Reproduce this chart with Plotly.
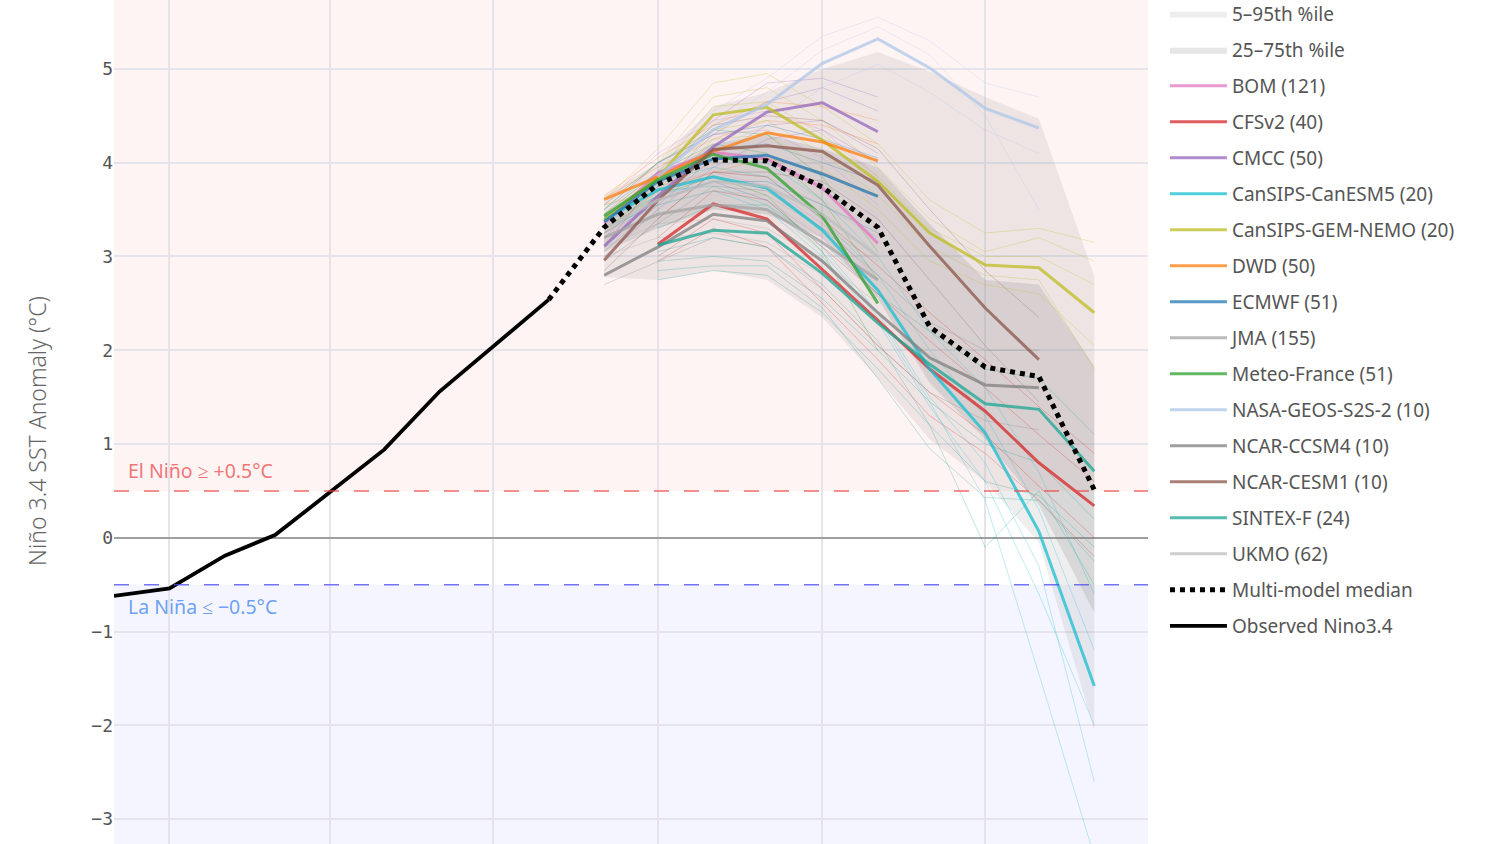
import plotly.graph_objects as go

# ---------------- data ----------------
OBS_MONTHS = ["2022-12-01", "2023-01-01", "2023-02-01", "2023-03-01", "2023-04-01",
              "2023-05-01", "2023-06-01", "2023-07-01", "2023-08-01"]
OBS_VALUES = [-0.62, -0.54, -0.19, 0.03, 0.49, 0.94, 1.56, 2.04, 2.54]

FC_MONTHS = ["2023-09-01", "2023-10-01", "2023-11-01", "2023-12-01", "2024-01-01",
             "2024-02-01", "2024-03-01", "2024-04-01", "2024-05-01", "2024-06-01"]

MEDIAN_MONTHS = ["2023-08-01"] + FC_MONTHS
MEDIAN_VALUES = [2.54, 3.31, 3.77, 4.03, 4.02, 3.74, 3.31, 2.25, 1.82, 1.72, 0.51]

P05 = [2.78, 2.75, 2.85, 2.75, 2.35, 1.70, 1.05, 0.60, -0.05, -2.05]
P95 = [3.65, 4.00, 4.60, 4.75, 5.00, 5.18, 4.97, 4.70, 4.47, 2.79]
P25 = [3.05, 3.30, 3.50, 3.45, 3.20, 2.55, 1.65, 1.05, 0.35, -0.80]
P75 = [3.45, 3.85, 4.20, 4.30, 4.15, 3.95, 3.35, 2.75, 2.70, 1.83]

# start index into FC_MONTHS, ensemble mean, a few readable members
BOM_START = 0
BOM_MEAN = [3.35, 3.89, 4.11, 4.04, 3.73, 3.14]
BOM_MEMBERS = [[3.55, 4.10, 4.45, 4.55, 4.35, 3.85],
               [3.20, 3.60, 3.80, 3.60, 3.20, 2.60],
               [3.45, 4.00, 4.30, 4.35, 4.05, 3.55],
               [3.25, 3.70, 3.90, 3.75, 3.35, 2.75]]

CFS_START = 1
CFS_MEAN = [3.13, 3.56, 3.40, 2.86, 2.32, 1.80, 1.35, 0.80, 0.34]
CFS_MEMBERS = [[3.40, 3.90, 3.85, 3.40, 2.90, 2.40, 1.90, 1.40, 0.90],
               [2.95, 3.30, 3.10, 2.50, 1.90, 1.30, 0.90, 0.40, -0.20],
               [3.20, 3.70, 3.60, 3.10, 2.60, 2.10, 1.60, 1.10, 0.60],
               [3.00, 3.40, 3.25, 2.65, 2.05, 1.55, 1.10, 0.55, 0.00]]

CMCC_START = 0
CMCC_MEAN = [3.11, 3.64, 4.17, 4.54, 4.64, 4.33]
CMCC_MEMBERS = [[3.30, 3.90, 4.45, 4.85, 4.90, 4.70],
                [3.00, 3.50, 3.95, 4.25, 4.35, 4.00],
                [3.20, 3.75, 4.30, 4.65, 4.80, 4.55],
                [3.05, 3.55, 4.05, 4.40, 4.45, 4.10]]

CANESM_START = 0
CANESM_MEAN = [3.39, 3.71, 3.85, 3.73, 3.28, 2.64, 1.80, 1.12, 0.07, -1.58]
CANESM_MEMBERS = [[3.50, 3.90, 4.05, 4.00, 3.60, 3.00, 2.20, 1.60, 0.70, -0.60],
                  [3.30, 3.55, 3.70, 3.50, 3.00, 2.30, 1.40, 0.60, -0.60, -2.00],
                  [3.45, 3.80, 3.95, 3.85, 3.40, 2.80, 2.00, 1.30, 0.30, -1.20],
                  [3.35, 3.65, 3.80, 3.60, 3.10, 2.40, 1.50, 0.80, -0.30, -2.60],
                  [3.40, 3.70, 3.75, 3.55, 3.05, 2.35, 1.45, 0.40, -1.45, -3.40]]

GEM_START = 0
GEM_MEAN = [3.39, 3.84, 4.51, 4.59, 4.24, 3.80, 3.25, 2.91, 2.88, 2.40]
GEM_MEMBERS = [[3.60, 4.15, 4.85, 4.95, 4.60, 4.20, 3.60, 3.25, 3.30, 3.15],
               [3.25, 3.65, 4.25, 4.30, 3.95, 3.50, 2.95, 2.70, 2.60, 2.05],
               [3.50, 4.00, 4.70, 4.80, 4.45, 3.95, 3.40, 3.05, 3.20, 2.95],
               [3.30, 3.70, 4.35, 4.45, 4.10, 3.65, 3.10, 2.80, 2.75, 1.80],
               [3.45, 3.90, 4.60, 4.65, 4.30, 3.85, 3.30, 3.00, 3.00, 2.70]]

DWD_START = 0
DWD_MEAN = [3.61, 3.85, 4.12, 4.32, 4.22, 4.02]
DWD_MEMBERS = [[3.65, 4.05, 4.40, 4.65, 4.60, 4.45],
               [3.55, 3.70, 3.90, 4.05, 3.90, 3.65],
               [3.62, 3.95, 4.25, 4.45, 4.40, 4.20]]

ECMWF_START = 0
ECMWF_MEAN = [3.37, 3.80, 4.04, 4.08, 3.88, 3.64]
ECMWF_MEMBERS = [[3.50, 4.00, 4.30, 4.40, 4.25, 4.05],
                 [3.25, 3.60, 3.80, 3.80, 3.55, 3.25],
                 [3.40, 3.85, 4.15, 4.20, 4.00, 3.80]]

JMA_START = 0
JMA_MEAN = [3.20, 3.45, 3.55, 3.50, 3.15, 2.75]
JMA_MEMBERS = [[3.40, 3.75, 3.90, 3.85, 3.55, 3.20],
               [3.00, 3.20, 3.25, 3.15, 2.80, 2.30],
               [3.25, 3.55, 3.70, 3.65, 3.30, 2.95],
               [3.10, 3.35, 3.40, 3.30, 2.95, 2.50]]

MF_START = 0
MF_MEAN = [3.43, 3.82, 4.09, 3.94, 3.43, 2.50]
MF_MEMBERS = [[3.55, 4.00, 4.35, 4.30, 3.85, 3.05],
              [3.30, 3.65, 3.85, 3.65, 3.05, 2.00],
              [3.45, 3.90, 4.20, 4.10, 3.60, 2.75]]

NASA_START = 1
NASA_MEAN = [3.85, 4.35, 4.62, 5.06, 5.32, 5.01, 4.58, 4.37]
NASA_MEMBERS = [[4.05, 4.55, 4.90, 5.35, 5.55, 5.30, 4.85, 4.70],
                [3.75, 4.15, 4.40, 4.80, 5.05, 4.75, 4.35, 4.10],
                [3.90, 4.40, 4.75, 5.20, 5.45, 5.15, 4.50, 3.50]]

CCSM4_START = 0
CCSM4_MEAN = [2.80, 3.10, 3.45, 3.38, 2.95, 2.40, 1.92, 1.63, 1.60]
CCSM4_MEMBERS = [[2.95, 3.35, 3.75, 3.70, 3.30, 2.80, 2.30, 2.00, 2.00],
                 [2.70, 2.95, 3.20, 3.10, 2.65, 2.05, 1.55, 1.25, 1.15]]

CESM1_START = 0
CESM1_MEAN = [2.96, 3.60, 4.14, 4.18, 4.12, 3.76, 3.11, 2.45, 1.90]
CESM1_MEMBERS = [[3.10, 3.85, 4.40, 4.50, 4.45, 4.15, 3.50, 2.85, 2.35],
                 [2.85, 3.40, 3.90, 3.90, 3.80, 3.40, 2.75, 2.05, 1.45]]

SINTEX_START = 1
SINTEX_MEAN = [3.12, 3.28, 3.25, 2.82, 2.29, 1.85, 1.43, 1.37, 0.71]
SINTEX_MEMBERS = [[2.75, 2.85, 2.80, 2.40, 1.80, 1.20, 0.60, 0.45, -0.10],
                  [2.95, 3.00, 2.95, 2.55, 2.00, 1.45, 1.00, 0.80, 0.20],
                  [3.30, 3.55, 3.55, 3.15, 2.60, 2.20, 1.80, 1.70, 1.10],
                  [2.85, 2.90, 2.90, 2.45, 1.70, 0.95, 0.43, 0.40, -0.25],
                  [3.05, 3.20, 3.10, 2.70, 2.10, 1.20, -0.10, 0.50, -0.50]]

UKMO_START = 0
UKMO_MEAN = [3.30, 3.60, 3.80, 3.75, 3.45, 3.00]
UKMO_MEMBERS = [[3.45, 3.85, 4.10, 4.10, 3.85, 3.45],
                [3.15, 3.40, 3.55, 3.45, 3.10, 2.60],
                [3.35, 3.70, 3.95, 3.90, 3.60, 3.20]]

MODEL_NAMES = ["BOM (121)", "CFSv2 (40)", "CMCC (50)", "CanSIPS-CanESM5 (20)",
               "CanSIPS-GEM-NEMO (20)", "DWD (50)", "ECMWF (51)", "JMA (155)",
               "Meteo-France (51)", "NASA-GEOS-S2S-2 (10)", "NCAR-CCSM4 (10)",
               "NCAR-CESM1 (10)", "SINTEX-F (24)", "UKMO (62)"]
MODEL_COLORS = ["#e377c2", "#d62728", "#9467bd", "#17becf", "#bcbd22", "#ff7f0e",
                "#1f77b4", "#a3a3a3", "#2ca02c", "#aec7e8", "#7f7f7f", "#8c564b",
                "#1aa593", "#bdbdbd"]
MODEL_STARTS = [BOM_START, CFS_START, CMCC_START, CANESM_START, GEM_START, DWD_START,
                ECMWF_START, JMA_START, MF_START, NASA_START, CCSM4_START, CESM1_START,
                SINTEX_START, UKMO_START]
MODEL_MEANS = [BOM_MEAN, CFS_MEAN, CMCC_MEAN, CANESM_MEAN, GEM_MEAN, DWD_MEAN,
               ECMWF_MEAN, JMA_MEAN, MF_MEAN, NASA_MEAN, CCSM4_MEAN, CESM1_MEAN,
               SINTEX_MEAN, UKMO_MEAN]
MODEL_MEMBERS = [BOM_MEMBERS, CFS_MEMBERS, CMCC_MEMBERS, CANESM_MEMBERS, GEM_MEMBERS,
                 DWD_MEMBERS, ECMWF_MEMBERS, JMA_MEMBERS, MF_MEMBERS, NASA_MEMBERS,
                 CCSM4_MEMBERS, CESM1_MEMBERS, SINTEX_MEMBERS, UKMO_MEMBERS]

Y_TICKS = [-3, -2, -1, 0, 1, 2, 3, 4, 5]


def hex_rgba(h, a):
    h = h.lstrip("#")
    return "rgba(%d,%d,%d,%.3f)" % (int(h[0:2], 16), int(h[2:4], 16), int(h[4:6], 16), a)


fig = go.Figure()

# percentile bands
fig.add_trace(go.Scatter(x=FC_MONTHS, y=P05, mode="lines", line=dict(width=0),
                         showlegend=False, hoverinfo="skip", legendgroup="p5"))
fig.add_trace(go.Scatter(x=FC_MONTHS, y=P95, mode="lines", line=dict(width=0),
                         fill="tonexty", fillcolor="rgba(120,120,120,0.13)",
                         name="5–95th %ile", legendgroup="p5"))
fig.add_trace(go.Scatter(x=FC_MONTHS, y=P25, mode="lines", line=dict(width=0),
                         showlegend=False, hoverinfo="skip", legendgroup="p25"))
fig.add_trace(go.Scatter(x=FC_MONTHS, y=P75, mode="lines", line=dict(width=0),
                         fill="tonexty", fillcolor="rgba(120,120,120,0.19)",
                         name="25–75th %ile", legendgroup="p25"))

# ensemble members
for name, color, start, members in zip(MODEL_NAMES, MODEL_COLORS, MODEL_STARTS, MODEL_MEMBERS):
    for m in members:
        fig.add_trace(go.Scatter(x=FC_MONTHS[start:start + len(m)], y=m, mode="lines",
                                 line=dict(color=hex_rgba(color, 0.28), width=1),
                                 showlegend=False, legendgroup=name, hoverinfo="skip"))

# ensemble means
for name, color, start, mean in zip(MODEL_NAMES, MODEL_COLORS, MODEL_STARTS, MODEL_MEANS):
    fig.add_trace(go.Scatter(x=FC_MONTHS[start:start + len(mean)], y=mean, mode="lines",
                             line=dict(color=hex_rgba(color, 0.75), width=3),
                             name=name, legendgroup=name))

fig.add_trace(go.Scatter(x=MEDIAN_MONTHS, y=MEDIAN_VALUES, mode="lines",
                         line=dict(color="black", width=5, dash="dot"),
                         name="Multi-model median", legendgroup="median"))
fig.add_trace(go.Scatter(x=OBS_MONTHS, y=OBS_VALUES, mode="lines",
                         line=dict(color="black", width=3.8),
                         name="Observed Nino3.4", legendgroup="obs"))

# regime shading and thresholds
fig.add_hrect(y0=0.5, y1=10, fillcolor="rgba(255,0,0,0.045)", line_width=0, layer="below")
fig.add_hrect(y0=-10, y1=-0.5, fillcolor="rgba(0,0,255,0.04)", line_width=0, layer="below")
fig.add_hline(y=0.5, line=dict(color="rgba(240,70,70,0.8)", width=1.5, dash="longdash"))
fig.add_hline(y=-0.5, line=dict(color="rgba(80,80,240,0.8)", width=1.5, dash="longdash"))

fig.add_annotation(x=0.012, xref="paper", y=0.5, yref="y", yshift=20, xanchor="left",
                   text="El Niño ≥ +0.5°C", showarrow=False,
                   font=dict(family="Noto Sans", size=19.5, color="rgba(240,100,100,0.9)"))
fig.add_annotation(x=0.012, xref="paper", y=-0.5, yref="y", yshift=-22, xanchor="left",
                   text="La Niña ≤ −0.5°C", showarrow=False,
                   font=dict(family="Noto Sans", size=19.5, color="rgba(90,150,240,0.9)"))

fig.update_layout(
    width=1500, height=900,
    margin=dict(l=114, r=352, t=0, b=38, autoexpand=False),
    paper_bgcolor="white", plot_bgcolor="white",
    font=dict(family="Noto Sans", color="#555"),
    legend=dict(x=1.0164, xanchor="left", y=1.0058, yanchor="top", maxheight=880,
                font=dict(size=19, color="#555"),
                tracegroupgap=8.3, itemwidth=57, bgcolor="rgba(0,0,0,0)"),
    showlegend=True,
)
fig.update_xaxes(type="date", range=["2022-12-01", "2024-07-01"], dtick="M3",
                 tick0="2023-01-01", showgrid=True, gridcolor="#e6e4ea",
                 gridwidth=1.5, zeroline=False, showline=False, automargin=False,
                 showticklabels=False)
fig.update_yaxes(range=[-3.457, 5.735], tickvals=Y_TICKS, showgrid=True, gridcolor="#e6e4ea",
                 gridwidth=1.5, zeroline=True, zerolinecolor="#a0a0a0", zerolinewidth=1.5,
                 showline=False, automargin=False,
                 tickfont=dict(family="DejaVu Sans Mono", size=18, color="#555"),
                 title=dict(text="Niño 3.4 SST Anomaly (°C)", standoff=38,
                            font=dict(family="Noto Sans", size=23, color="#666", weight=300)))

fig.write_html("out.html", config={"displayModeBar": False},
               post_script="document.body.style.margin='0px';document.body.style.overflow='hidden';")
